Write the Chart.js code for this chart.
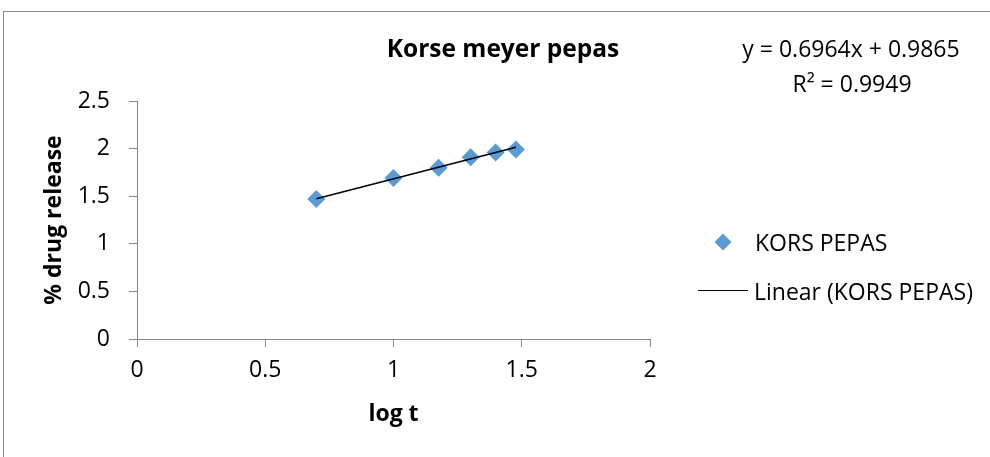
<!DOCTYPE html>
<html>
<head>
<meta charset="utf-8">
<script src="https://cdn.jsdelivr.net/npm/chart.js@4"></script>
<style>
  html, body { margin: 0; padding: 0; background: #fff; }
  body { width: 990px; height: 457px; position: relative; overflow: hidden; font-family: "Open Sans", Lato, sans-serif; color: #000; }
  #frame { position: absolute; left: 3px; top: 11px; width: 1000px; height: 460px; border-left: 1px solid #8c8c8c; border-top: 1px solid #8c8c8c; }
  #chart { position: absolute; left: 0; top: 0; }
  .txt { position: absolute; white-space: nowrap; font-size: 23px; line-height: 1; }
  .mid { transform: translate(-50%, -50%); }
  .lft { transform: translateY(-50%); }
  #title { left: 503px; top: 48px; font-weight: bold; font-size: 24.5px; }
  #eq1 { left: 851px; top: 48px; }
  #eq2 { left: 852px; top: 83px; }
  #leg1 { left: 755px; top: 242px; }
  #leg2 { left: 754px; top: 291px; }
  #legDiamond { position: absolute; left: 717px; top: 236px; width: 12px; height: 12px; background: #5b9bd5; transform: rotate(45deg); }
  #legLine { position: absolute; left: 698px; top: 290px; width: 50px; height: 0; border-top: 1.5px solid #000; }
</style>
</head>
<body>
<div id="frame"></div>
<canvas id="chart" width="990" height="457"></canvas>
<div class="txt mid" id="title">Korse meyer pepas</div>
<div class="txt mid" id="eq1">y = 0.6964x + 0.9865</div>
<div class="txt mid" id="eq2">R² = 0.9949</div>
<div id="legDiamond"></div>
<div class="txt lft" id="leg1">KORS PEPAS</div>
<div id="legLine"></div>
<div class="txt lft" id="leg2">Linear (KORS PEPAS)</div>
<script>
// data
const logT = [0.699, 1.0, 1.176, 1.301, 1.398, 1.477];
const drugRelease = [1.47, 1.69, 1.80, 1.91, 1.96, 1.99];
// trendline end points (from y = 0.6964x + 0.9865 as printed)
const trendX = [0.699, 1.477];
const trendY = [1.473, 2.015];
const xTicks = [0, 0.5, 1, 1.5, 2];
const yTicks = [0, 0.5, 1, 1.5, 2, 2.5];

const axisGrey = '#868686';
const fam = '"Open Sans", Lato, sans-serif';

new Chart(document.getElementById('chart'), {
  type: 'scatter',
  data: {
    datasets: [
      {
        label: 'KORS PEPAS',
        data: logT.map((x, i) => ({ x: x, y: drugRelease[i] })),
        pointStyle: 'rectRot',
        pointRadius: 9,
        backgroundColor: '#5b9bd5',
        borderColor: '#5b9bd5',
        borderWidth: 0,
        order: 2
      },
      {
        label: 'Linear (KORS PEPAS)',
        type: 'line',
        data: trendX.map((x, i) => ({ x: x, y: trendY[i] })),
        borderColor: '#000',
        borderWidth: 1.5,
        pointRadius: 0,
        fill: false,
        order: 1
      }
    ]
  },
  options: {
    responsive: false,
    animation: false,
    devicePixelRatio: 1,
    layout: { padding: { left: 40, right: 340, top: 101, bottom: 20 } },
    plugins: { legend: { display: false }, tooltip: { enabled: false } },
    scales: {
      x: {
        type: 'linear',
        min: 0, max: 2,
        afterBuildTicks: (s) => { s.ticks = xTicks.map(v => ({ value: v })); },
        border: { color: axisGrey, width: 1 },
        grid: { drawOnChartArea: false, drawTicks: true, tickLength: 8, color: axisGrey },
        ticks: { color: '#000', font: { family: fam, size: 23 }, padding: 10, callback: (v) => String(v) },
        title: { display: true, text: 'log t', color: '#000', font: { family: fam, size: 23, weight: 'bold' }, padding: { top: 0, bottom: 9 } },
        afterFit: (s) => { s.height = 98; }
      },
      y: {
        type: 'linear',
        min: 0, max: 2.5,
        afterBuildTicks: (s) => { s.ticks = yTicks.map(v => ({ value: v })); },
        border: { color: axisGrey, width: 1 },
        grid: { drawOnChartArea: false, drawTicks: true, tickLength: 8, color: axisGrey },
        ticks: { color: '#000', font: { family: fam, size: 23 }, padding: 19, callback: (v) => String(v) },
        title: { display: true, text: '% drug release', color: '#000', font: { family: fam, size: 23, weight: 'bold' }, padding: { top: 1, bottom: 0 } },
        afterFit: (s) => { s.width = 97; }
      }
    }
  }
});
</script>
</body>
</html>
